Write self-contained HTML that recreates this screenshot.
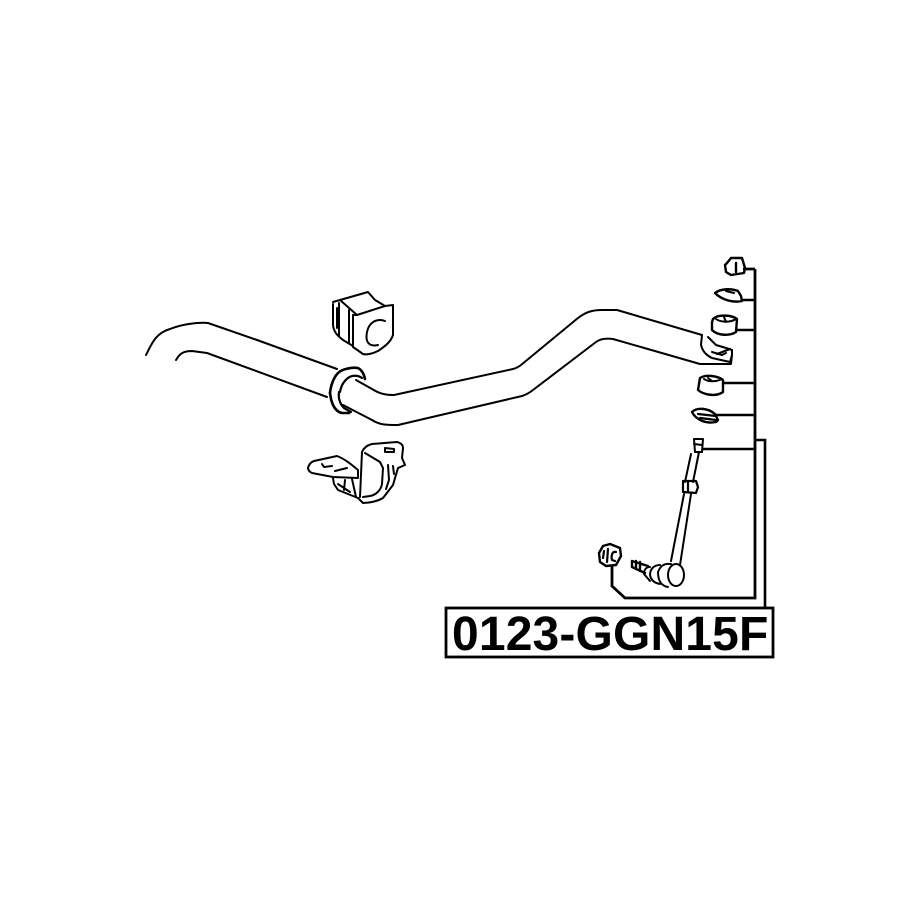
<!DOCTYPE html>
<html><head><meta charset="utf-8"><style>
html,body{margin:0;padding:0;background:#fff}
svg{display:block}
</style></head><body>
<svg width="915" height="915" viewBox="0 0 915 915" xmlns="http://www.w3.org/2000/svg">
<rect width="915" height="915" fill="#fff"/>
<g fill="none" stroke="#000" stroke-width="2" stroke-linejoin="round" stroke-linecap="round">
<!-- bar -->
<path d="M146 355 C152 343 156 333 170 329 C180 325 195 322 208 323 L257 340 L337 369"/>
<path d="M176 360 C180 353 184 351 192 351 L207 353 L327 397"/>
<path d="M356 380 L372 389 C380 394 386 395 394 395 L513 369 Q517 368 521 365 L578 318 C586 312 592 310 602 310 L617 310 L702 335"/>
<path d="M343 405 L372 420 C380 425 386 425 398 425 L522 396 Q528 394 533 390 L596 342 C600 339 606 338 613 339 L700 364"/>
<!-- ring -->
<path stroke-width="2.6" d="M330 393 C331 383 335 376 338 373 C342 369 352 367 358 368 C362 370 364 374 365 379"/>
<path stroke-width="2.6" d="M330 393 L331 399 C333 407 337 412 342 413 L349 413"/>
<path stroke-width="2.2" d="M340 392 C341 386 344 381 348 378 C352 375 358 375 362 378"/>
<path stroke-width="2.2" d="M339 392 C338 398 340 404 344 408 L351 412"/>
<!-- top bushing -->
<path d="M333 304 L333 325 C334 333 338 336 343 340 L353 346"/>
<path d="M333 302 L340 300 L368 292 L375 300 L385 306 L393 305 L393 335 C391 341 387 345 378 351 C372 354 366 355 363 354 L353 347 L353 315"/>
<path d="M340 300 L357 315 L385 306"/>
<path d="M339 303 L339 336 M349 310 L349 343 M337 308 L337 328 M353 315 L357 315"/>
<path d="M385 321 C377 318 369 322 367 332 C365 342 369 347 378 345"/>
<!-- bracket -->
<path d="M308 468 C309 464 311 462 314 461 L337 456 C345 459 352 465 358 470 L358 478 L333 477 L312 473 Q308 471 308 468 Z"/>
<path d="M322 464 L324 467 L332 466 M335 471 L347 468"/>
<path d="M333 478 L334 484 L338 490 L358 498 M345 480 L344 490 M338 484 L350 492 M352 479 L356 497"/>
<path d="M360 497 L362 452 C364 447 368 445 372 444 L397 442 C401 443 403 445 403 448 L402 458 L405 465 L398 468 L393 485 L383 498 C378 501 370 503 363 503 L358 498"/>
<path d="M365 453 L380 462 L383 468 L382 484 C381 490 376 495 370 496 L363 497 M388 465 L389 480 L386 489 M393 466 L394 474"/>
<path d="M385 448 L394 449 L394 452 L385 452 Z"/>
<!-- end link pieces -->
<path d="M702 335 L701 345 C703 353 708 356 712 358 L730 362 L732 355 L732 350 L726 348 L716 345 L708 337"/>
<path d="M700 364 L710 364 L731 364 L732 355 M712 352 L722 355 L726 353"/>
<path stroke-width="2.2" d="M717 354 L730 349"/>
<!-- nut top -->
<path stroke-width="2.4" d="M727 263 L731 258 L742 258 L745 268 L744 273 L731 275 L726 272 L725 265 Z"/>
<path stroke-width="2.4" d="M736 263 L736 272"/>
<!-- washer -->
<path stroke-width="2.4" d="M715 293 C720 289 730 288 738 291 L741 296 L742 301 C733 303 722 300 715 293 Z"/>
<path stroke-width="2" d="M726 291 L734 293"/>
<!-- bush 1 -->
<path stroke-width="2.4" d="M713 319 C718 314 732 315 737 319 L736 332 C730 336 718 336 712 330 L712 322 Z"/>
<path stroke-width="2" d="M716 319 C720 322 730 323 736 319 M724 317 L726 322"/>
<!-- bush 2 -->
<path stroke-width="2.4" d="M700 378 C706 374 718 376 723 380 L723 392 C716 397 704 395 698 390 Z"/>
<path stroke-width="2" d="M704 379 C708 382 716 382 722 379 M708 378 L712 381"/>
<!-- lower washer -->
<path stroke-width="2.4" d="M692 412 C697 407 708 408 715 414 L718 420 L716 422 C706 424 696 420 692 412 Z"/>
<path stroke-width="2.2" d="M698 414 L716 416 M700 418 L716 420"/>
<!-- link rod -->
<path d="M694 439 L703 439 L702 452 L695 452 Z M694 444 L702 445"/>
<path d="M691 454 L685 482 M699 452 L693 482"/>
<path stroke-width="2.2" d="M683 481 L696 481 L698 487 L696 493 L683 492 Z M688 481 L688 492"/>
<path d="M684 494 L671 561 M691 494 L680 565"/>
<!-- ball joint -->
<ellipse cx="676" cy="575" rx="8" ry="11" stroke-width="2"/>
<path d="M671 564 C663 563 660 567 658 572 C658 580 661 586 668 587 M660 565 C654 565 650 569 650 575 C651 580 654 583 660 584 M650 567 C646 567 644 570 644 574 L650 581"/>
<path stroke-width="2.4" d="M632 561 L648 566 M632 567 L645 573 M632 561 L632 567 M636 561 L636 569 M640 562 L640 571"/>
<!-- small nut -->
<path stroke-width="2.4" d="M603 546 L610 544 L620 548 L621 556 L616 565 L606 566 L600 562 L599 553 Z"/>
<path stroke-width="2.2" d="M616 552 C612 551 611 556 612 560 L615 561 M604 551 L603 558 M608 549 L607 562"/>
</g>
<!-- connectors -->
<g fill="none" stroke="#000" stroke-linejoin="miter">
<path stroke-width="2.8" d="M743 269 L755 269 M755 269 L755 598 L625 598 L612 586 L612 566"/>
<path stroke-width="2.6" d="M741 300 L755 300 M736 330 L755 330 M723 383 L755 383 M716 415 L755 415 M702 449 L755 449"/>
<path stroke-width="2.6" d="M755 440 L765 440 L765 608"/>
<rect x="446" y="608" width="327" height="49" stroke-width="2.8" fill="#fff"/>
</g>
<text x="452" y="650" font-family="'Liberation Sans',Arial,sans-serif" font-weight="700" font-size="48" letter-spacing="0.15" fill="#000">0123-GGN15F</text>
</svg>
</body></html>
